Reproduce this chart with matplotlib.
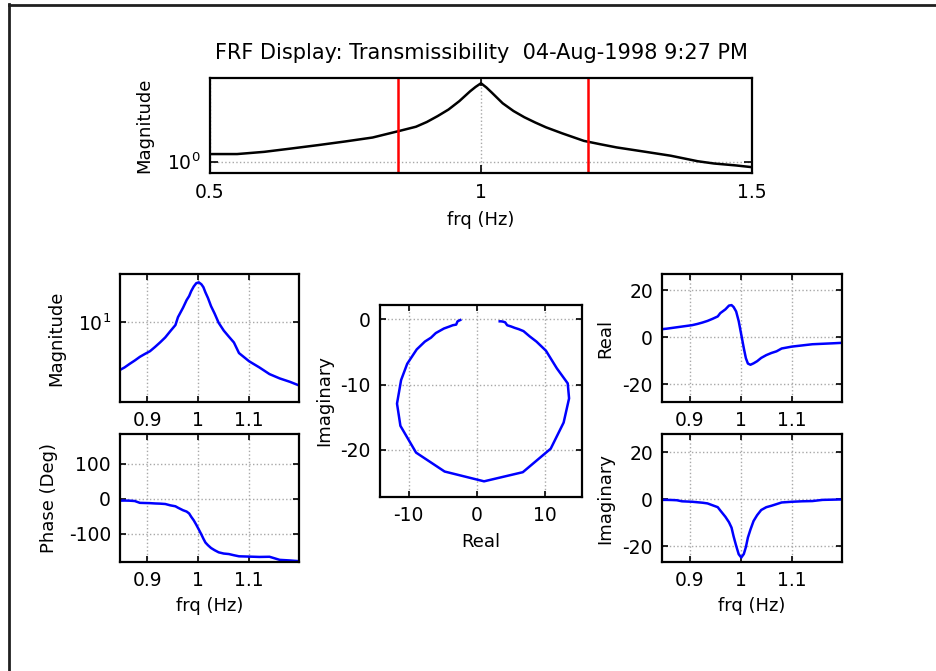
import matplotlib
matplotlib.use("Agg")
import matplotlib.pyplot as plt
from matplotlib.lines import Line2D
from matplotlib.ticker import NullLocator
import numpy as np

# overview magnitude, 0.5 - 1.5 Hz
top_freq = [0.50, 0.55, 0.57, 0.60, 0.65, 0.70, 0.75, 0.80, 0.85, 0.88, 0.90,
            0.92, 0.94, 0.96, 0.98, 0.99, 1.00, 1.01, 1.02, 1.04, 1.06, 1.08,
            1.10, 1.12, 1.15, 1.19, 1.22, 1.25, 1.30, 1.35, 1.40, 1.43, 1.47, 1.50]
top_mag = [1.37, 1.37, 1.42, 1.50, 1.72, 1.98, 2.30, 2.70, 3.55, 4.2, 5.1,
           6.5, 8.5, 12.0, 18.0, 21.5, 25.0, 21.0, 17.0, 11.0, 8.0, 6.2,
           5.0, 4.1, 3.2, 2.35, 2.05, 1.80, 1.52, 1.28, 1.02, 0.93, 0.86, 0.80]

# selected band (red cursors)
band = [0.846, 1.198]

# complex FRF inside the band
freq = [0.846, 0.855, 0.865, 0.875, 0.885, 0.895, 0.905, 0.915, 0.925, 0.935,
        0.945, 0.955, 0.960, 0.970, 0.977, 0.982, 0.986, 0.991, 0.996, 1.001,
        1.006, 1.010, 1.014, 1.019, 1.025, 1.032, 1.040, 1.050, 1.060, 1.070,
        1.080, 1.100, 1.120, 1.140, 1.160, 1.180, 1.198]
real = [3.4, 3.6, 3.9, 4.2, 4.5, 4.8, 5.1, 5.6, 6.2, 6.9,
        7.8, 8.8, 10.2, 11.8, 13.4, 13.6, 12.8, 10.9, 6.8, 1.1,
        -4.7, -8.9, -11.2, -11.7, -11.1, -10.2, -8.8, -7.6, -6.7, -6.0,
        -4.8, -4.0, -3.5, -3.0, -2.8, -2.6, -2.4]
imag = [-0.3, -0.3, -0.35, -0.45, -0.9, -1.0, -1.1, -1.3, -1.5, -1.8,
        -2.6, -3.4, -4.8, -7.5, -9.8, -12.1, -15.8, -19.8, -23.4, -24.8,
        -23.3, -20.4, -16.3, -12.9, -9.3, -6.8, -4.6, -3.4, -2.8, -2.1,
        -1.4, -1.1, -0.9, -0.8, -0.3, -0.2, -0.1]

H = np.array(real) + 1j * np.array(imag)

plt.rcParams['font.family'] = ['DejaVu Sans']
plt.rcParams['font.size'] = 13
plt.rcParams['axes.linewidth'] = 1.6
plt.rcParams['axes.unicode_minus'] = False

W, Hpx = 937, 671


def box(l, t, r, b):
    return [l / W, 1 - b / Hpx, (r - l) / W, (b - t) / Hpx]


def style(ax):
    ax.tick_params(direction='in', top=True, right=True, length=4, width=1.2,
                   labelsize=13.5)
    ax.grid(True, linestyle=':', color='#a8a8a8', linewidth=1)


fig = plt.figure(figsize=(W / 100, Hpx / 100), dpi=100)

ax_top = fig.add_axes(box(210, 78, 752, 173))
ax_mag = fig.add_axes(box(120, 274, 299, 402))
ax_ph = fig.add_axes(box(120, 434, 299, 562))
ax_nyq = fig.add_axes(box(380, 305, 582, 497))
ax_re = fig.add_axes(box(662, 274, 842, 402))
ax_im = fig.add_axes(box(662, 434, 842, 562))

# overview
ax_top.semilogy(top_freq, top_mag, color='black', lw=1.8)
for f in band:
    ax_top.axvline(f, color='red', lw=1.8)
ax_top.set_xlim(0.5, 1.5)
ax_top.set_ylim(0.63, 31)
ax_top.set_xticks([0.5, 1, 1.5])
ax_top.set_xticklabels(['0.5', '1', '1.5'])
ax_top.set_yticks([1])
ax_top.yaxis.set_minor_locator(NullLocator())
style(ax_top)
ax_top.tick_params(length=6, pad=7)
ax_top.set_xlabel('frq (Hz)', labelpad=7)
ax_top.set_ylabel('Magnitude', labelpad=10)
ax_top.set_title('FRF Display: Transmissibility  04-Aug-1998 9:27 PM',
                 fontsize=15, pad=14)

fticks = [0.9, 1.0, 1.1]
flabels = ['0.9', '1', '1.1']

# magnitude in band
ax_mag.semilogy(freq, np.abs(H), color='blue', lw=1.8)
ax_mag.set_ylim(1.65, 30)
ax_mag.set_yticks([10])
ax_mag.yaxis.set_minor_locator(NullLocator())
ax_mag.set_ylabel('Magnitude', labelpad=9)

# phase in band
ax_ph.plot(freq, np.degrees(np.angle(H)), color='blue', lw=1.8)
ax_ph.set_ylim(-180, 185)
ax_ph.set_yticks([-100, 0, 100])
ax_ph.set_ylabel('Phase (Deg)', labelpad=8)
ax_ph.set_xlabel('frq (Hz)', labelpad=5)

# real / imaginary in band
ax_re.plot(freq, H.real, color='blue', lw=1.8)
ax_re.set_ylim(-27.5, 26.8)
ax_re.set_yticks([-20, 0, 20])
ax_re.set_ylabel('Real', labelpad=6)

ax_im.plot(freq, H.imag, color='blue', lw=1.8)
ax_im.set_ylim(-26.7, 27.7)
ax_im.set_yticks([-20, 0, 20])
ax_im.set_ylabel('Imaginary', labelpad=6)
ax_im.set_xlabel('frq (Hz)', labelpad=5)

for ax in (ax_mag, ax_ph, ax_re, ax_im):
    ax.set_xlim(band[0], band[1])
    ax.set_xticks(fticks)
    ax.set_xticklabels(flabels)
    style(ax)
    ax.tick_params(pad=6.5)

# nyquist
ax_nyq.plot(H.real, H.imag, color='blue', lw=1.8)
ax_nyq.set_xlim(-14.2, 15.5)
ax_nyq.set_ylim(-27.2, 2.2)
ax_nyq.set_xticks([-10, 0, 10])
ax_nyq.set_yticks([-20, -10, 0])
style(ax_nyq)
ax_nyq.tick_params(pad=6.5)
ax_nyq.set_xlabel('Real', labelpad=6)
ax_nyq.set_ylabel('Imaginary', labelpad=5)

# frame lines along the top and left edges
fig.add_artist(Line2D([9 / W, 1], [1 - 4.5 / Hpx] * 2, transform=fig.transFigure,
                      color='#202020', lw=2))
fig.add_artist(Line2D([9.5 / W] * 2, [0, 1 - 4 / Hpx], transform=fig.transFigure,
                      color='#202020', lw=2))

fig.savefig('out.png', dpi=100, facecolor='white')
